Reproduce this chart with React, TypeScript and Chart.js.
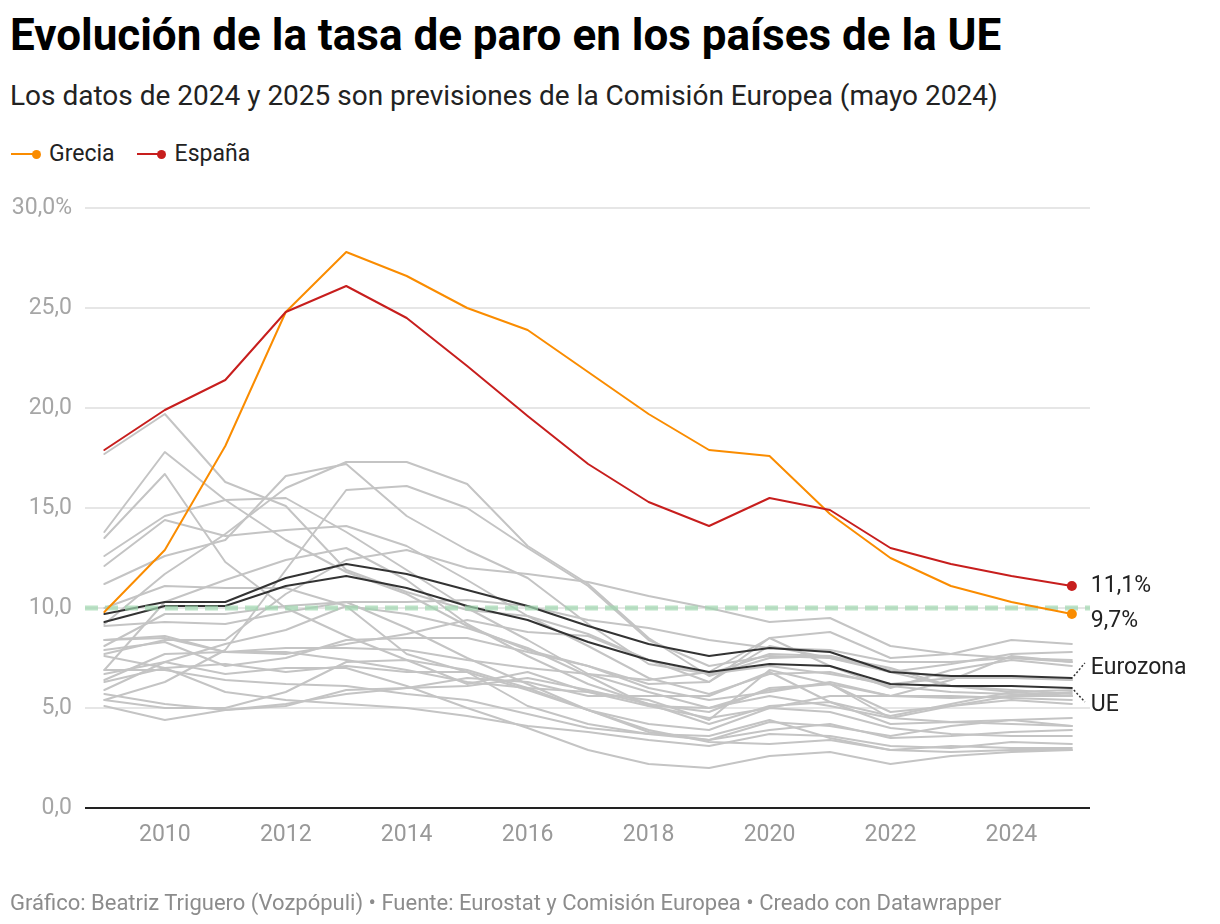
import React, { useEffect, useRef } from "react";
import { Chart, registerables } from "chart.js";

Chart.register(...registerables);

// ---------- DATA ----------
const years = [2009, 2010, 2011, 2012, 2013, 2014, 2015, 2016, 2017, 2018, 2019, 2020, 2021, 2022, 2023, 2024, 2025];
const xTickYears = [2010, 2012, 2014, 2016, 2018, 2020, 2022, 2024];
const yTickValues = [0, 5, 10, 15, 20, 25, 30];
const referenceValue = 10;

const espana = [17.9, 19.9, 21.4, 24.8, 26.1, 24.5, 22.1, 19.6, 17.2, 15.3, 14.1, 15.5, 14.9, 13.0, 12.2, 11.6, 11.1];
const grecia = [9.8, 12.9, 18.1, 24.8, 27.8, 26.6, 25.0, 23.9, 21.8, 19.7, 17.9, 17.6, 14.7, 12.5, 11.1, 10.3, 9.7];
const eurozona = [9.7, 10.3, 10.3, 11.5, 12.2, 11.7, 10.9, 10.1, 9.1, 8.2, 7.6, 8.0, 7.8, 6.8, 6.6, 6.6, 6.5];
const ue = [9.3, 10.1, 10.1, 11.1, 11.6, 11.0, 10.1, 9.4, 8.3, 7.4, 6.8, 7.2, 7.1, 6.2, 6.1, 6.1, 6.0];

const letonia = [17.7, 19.7, 16.3, 15.1, 11.9, 10.8, 9.9, 9.6, 8.7, 7.4, 6.3, 8.1, 7.5, 6.9, 6.5, 6.6, 6.4];
const lituania = [13.8, 17.8, 15.4, 13.4, 11.8, 10.7, 9.1, 7.9, 7.1, 6.2, 6.3, 8.5, 7.1, 6.0, 6.9, 7.4, 7.1];
const estonia = [13.5, 16.7, 12.3, 10.0, 8.6, 7.4, 6.2, 6.8, 5.8, 5.4, 4.4, 6.9, 6.2, 5.6, 6.4, 7.6, 7.3];
const croacia = [9.2, 11.7, 13.7, 16.0, 17.3, 17.3, 16.2, 13.1, 11.2, 8.5, 6.6, 7.5, 7.6, 7.0, 6.1, 5.9, 5.7];
const chipre = [5.4, 6.3, 7.9, 11.9, 15.9, 16.1, 15.0, 13.0, 11.1, 8.4, 7.1, 7.6, 7.5, 6.8, 6.1, 5.8, 5.6];
const portugal = [11.2, 12.6, 13.4, 16.6, 17.2, 14.6, 12.9, 11.5, 9.2, 7.2, 6.7, 7.1, 6.7, 6.2, 6.5, 6.5, 6.4];
const eslovaquia = [12.1, 14.4, 13.6, 13.9, 14.1, 13.1, 11.4, 9.6, 8.1, 6.5, 5.7, 6.7, 6.8, 6.1, 5.8, 5.7, 5.6];
const irlanda = [12.6, 14.6, 15.4, 15.5, 13.8, 11.9, 10.0, 8.4, 6.7, 5.8, 5.0, 5.9, 6.2, 4.5, 4.3, 4.4, 4.5];
const italia = [7.7, 8.4, 8.4, 10.7, 12.4, 12.9, 12.0, 11.7, 11.3, 10.6, 10.0, 9.3, 9.5, 8.1, 7.7, 7.5, 7.3];
const francia = [9.1, 9.3, 9.2, 9.8, 10.3, 10.3, 10.4, 10.1, 9.4, 9.0, 8.4, 8.0, 7.9, 7.3, 7.3, 7.5, 7.4];
const bulgaria = [6.9, 10.3, 11.4, 12.4, 13.0, 11.4, 9.2, 7.6, 6.2, 5.2, 4.2, 5.1, 5.3, 4.2, 4.3, 4.2, 4.1];
const hungria = [10.0, 11.1, 11.0, 11.0, 10.1, 7.7, 6.8, 5.1, 4.2, 3.7, 3.4, 4.3, 4.1, 3.6, 4.1, 4.4, 4.1];
const polonia = [8.1, 9.7, 9.7, 10.1, 10.3, 9.0, 7.5, 6.2, 4.9, 3.9, 3.3, 3.2, 3.4, 2.9, 2.8, 2.9, 2.9];
const chequia = [6.7, 7.3, 6.7, 7.0, 7.0, 6.1, 5.0, 4.0, 2.9, 2.2, 2.0, 2.6, 2.8, 2.2, 2.6, 2.8, 2.9];
const eslovenia = [5.9, 7.3, 8.2, 8.9, 10.1, 9.7, 9.0, 8.0, 6.6, 5.1, 4.5, 5.0, 4.8, 4.0, 3.7, 3.6, 3.6];
const finlandia = [8.4, 8.5, 7.8, 7.7, 8.2, 8.7, 9.4, 8.8, 8.6, 7.4, 6.7, 7.7, 7.6, 6.8, 7.2, 7.7, 7.8];
const suecia = [8.4, 8.6, 7.8, 8.0, 8.0, 7.9, 7.4, 7.0, 6.7, 6.4, 6.8, 8.5, 8.8, 7.5, 7.7, 8.4, 8.2];
const dinamarca = [6.4, 7.7, 7.8, 7.8, 7.4, 6.9, 6.3, 6.0, 5.8, 5.1, 5.0, 5.6, 5.1, 4.5, 5.1, 5.6, 5.8];
const paisesBajos = [5.4, 5.0, 5.0, 5.8, 7.3, 7.4, 6.9, 6.0, 4.9, 3.8, 3.4, 3.9, 4.2, 3.5, 3.6, 3.8, 3.9];
const alemania = [7.6, 7.0, 5.8, 5.4, 5.2, 5.0, 4.6, 4.1, 3.8, 3.4, 3.1, 3.7, 3.6, 3.1, 3.0, 3.3, 3.2];
const austria = [5.7, 5.2, 4.9, 5.2, 5.7, 6.0, 6.1, 6.5, 5.9, 5.2, 4.8, 6.0, 6.2, 4.8, 5.1, 5.4, 5.2];
const belgica = [7.9, 8.3, 7.1, 7.5, 8.4, 8.5, 8.5, 7.8, 7.1, 6.0, 5.4, 5.8, 6.3, 5.6, 5.5, 5.6, 5.6];
const luxemburgo = [5.1, 4.4, 4.9, 5.1, 5.9, 6.0, 6.5, 6.3, 5.6, 5.6, 5.6, 6.8, 5.3, 4.6, 5.2, 5.8, 5.9];
const malta = [6.9, 6.9, 6.4, 6.2, 6.1, 5.7, 5.4, 4.7, 4.0, 3.7, 3.6, 4.4, 3.5, 2.9, 3.1, 3.0, 3.0];
const rumania = [6.3, 7.0, 7.2, 6.8, 7.1, 6.8, 6.8, 5.9, 4.9, 4.2, 3.9, 5.0, 5.6, 5.6, 5.6, 5.5, 5.4];

const otrosPaises = [
  letonia, lituania, estonia, croacia, chipre, portugal, eslovaquia, irlanda, italia,
  francia, bulgaria, hungria, polonia, chequia, eslovenia, finlandia, suecia, dinamarca,
  paisesBajos, alemania, austria, belgica, luxemburgo, malta, rumania,
];

// ---------- STYLE ----------
const FONT = "Roboto, 'Noto Sans', sans-serif";
const RED = "#c71e1d";
const ORANGE = "#fa8c00";
const BLACK = "#333333";
const GREY = "#c4c4c4";

const fmt = (v: number) => v.toFixed(1).replace(".", ",");

const toPoints = (vals: number[]) => vals.map((v, i) => ({ x: years[i], y: v }));

export default function App() {
  const canvasRef = useRef<HTMLCanvasElement | null>(null);

  useEffect(() => {
    if (!canvasRef.current) return;
    const last = years.length - 1;

    const endDot = (color: string) => ({
      pointRadius: (ctx: any) => (ctx.dataIndex === last ? 5 : 0),
      pointBackgroundColor: color,
      pointBorderWidth: 0,
      pointHoverRadius: 0,
    });

    const datasets: any[] = [
      { label: "España", data: toPoints(espana), borderColor: RED, borderWidth: 2, ...endDot(RED) },
      { label: "Grecia", data: toPoints(grecia), borderColor: ORANGE, borderWidth: 2, ...endDot(ORANGE) },
      { label: "Eurozona", data: toPoints(eurozona), borderColor: BLACK, borderWidth: 2, pointRadius: 0 },
      { label: "UE", data: toPoints(ue), borderColor: BLACK, borderWidth: 2, pointRadius: 0 },
      ...otrosPaises.map((vals, i) => ({
        label: "p" + i,
        data: toPoints(vals),
        borderColor: GREY,
        borderWidth: 2,
        pointRadius: 0,
      })),
    ];

    const refLinePlugin = {
      id: "refLine",
      afterDatasetDraw(chart: any, args: any) {
        if (args.index !== 2) return;
        const { ctx, chartArea, scales } = chart;
        const y = scales.y.getPixelForValue(referenceValue);
        ctx.save();
        ctx.strokeStyle = "rgba(160, 215, 175, 0.7)";
        ctx.lineWidth = 5;
        ctx.setLineDash([13, 7]);
        ctx.beginPath();
        ctx.moveTo(chartArea.left, y);
        ctx.lineTo(chartArea.right, y);
        ctx.stroke();
        ctx.restore();
      },
    };

    const endLabelPlugin = {
      id: "endLabels",
      afterDraw(chart: any) {
        const { ctx } = chart;
        const pt = (di: number) => chart.getDatasetMeta(di).data[last];
        ctx.save();
        ctx.font = `23px ${FONT}`;
        ctx.fillStyle = "#222";
        ctx.textBaseline = "middle";
        ctx.textAlign = "left";
        const es = pt(0), gr = pt(1), ez = pt(2), eu = pt(3);
        const lx = es.x + 19;
        ctx.fillText(fmt(espana[last]) + "%", lx, es.y);
        ctx.fillText(fmt(grecia[last]) + "%", lx, gr.y + 7);
        ctx.fillText("Eurozona", lx, ez.y - 10);
        ctx.fillText("UE", lx, eu.y + 17);
        // leaders
        ctx.strokeStyle = "#333";
        ctx.lineWidth = 1.5;
        ctx.setLineDash([2, 2]);
        ctx.beginPath();
        ctx.moveTo(ez.x + 2, ez.y - 2);
        ctx.lineTo(ez.x + 13, ez.y - 15);
        ctx.moveTo(eu.x + 2, eu.y + 2);
        ctx.lineTo(eu.x + 13, eu.y + 14);
        ctx.stroke();
        ctx.restore();
      },
    };

    const chart = new Chart(canvasRef.current, {
      type: "line",
      data: { datasets },
      options: {
        animation: false,
        responsive: false,
        maintainAspectRatio: false,
        devicePixelRatio: 1,
        elements: { line: { tension: 0, borderCapStyle: "round", borderJoinStyle: "round" } },
        layout: { padding: { left: 0, right: 130, top: 208, bottom: 66 } },
        plugins: { legend: { display: false }, tooltip: { enabled: false } },
        scales: {
          x: {
            type: "linear",
            min: 2008.68,
            max: 2025.3,
            grid: { display: false, drawTicks: false },
            border: { display: false },
            afterBuildTicks: (s: any) => {
              s.ticks = xTickYears.map((v) => ({ value: v }));
            },
            afterFit: (s: any) => {
              s.height = 50;
            },
            ticks: {
              autoSkip: false,
              maxRotation: 0,
              padding: 13,
              color: "#999",
              font: { family: FONT, size: 23 },
              callback: (v: any) => String(v),
            },
          },
          y: {
            min: 0,
            max: 30,
            afterBuildTicks: (s: any) => {
              s.ticks = yTickValues.map((v) => ({ value: v }));
            },
            afterFit: (s: any) => {
              s.width = 85;
            },
            border: { display: false },
            grid: {
              drawTicks: false,
              color: (c: any) => (c.tick && c.tick.value === 0 ? "#222" : "#e6e6e6"),
              lineWidth: 2,
            },
            ticks: {
              padding: 13,
              color: "#a6a6a6",
              font: { family: FONT, size: 23 },
              callback: (v: any) => fmt(Number(v)) + (Number(v) === 30 ? "%" : ""),
            },
          },
        },
      },
      plugins: [refLinePlugin, endLabelPlugin],
    });

    return () => chart.destroy();
  }, []);

  const legendItem = (color: string, text: string, ml: number) => (
    <div style={{ display: "flex", alignItems: "center", marginLeft: ml }}>
      <div style={{ position: "relative", width: 25, height: 2, background: color }}>
        <div
          style={{
            position: "absolute",
            right: -4.5,
            top: -3.5,
            width: 9,
            height: 9,
            borderRadius: 4.5,
            background: color,
          }}
        />
      </div>
      <span style={{ marginLeft: 13 }}>{text}</span>
    </div>
  );

  return (
    <div
      style={{
        position: "absolute",
        left: 0,
        top: 0,
        width: 1220,
        height: 924,
        background: "#fff",
        fontFamily: FONT,
        overflow: "hidden",
      }}
    >
      <div
        style={{
          position: "absolute",
          left: 10,
          top: 10,
          fontSize: 44,
          lineHeight: "50px",
          fontWeight: 700,
          color: "#000",
          whiteSpace: "nowrap",
        }}
      >
        Evolución de la tasa de paro en los países de la UE
      </div>
      <div
        style={{
          position: "absolute",
          left: 10,
          top: 79.4,
          fontSize: 28,
          lineHeight: "34px",
          color: "#222",
          whiteSpace: "nowrap",
        }}
      >
        Los datos de 2024 y 2025 son previsiones de la Comisión Europea (mayo 2024)
      </div>
      <div
        style={{
          position: "absolute",
          left: 11,
          top: 140,
          fontSize: 23,
          lineHeight: "28px",
          color: "#222",
          display: "flex",
          alignItems: "center",
          whiteSpace: "nowrap",
        }}
      >
        {legendItem(ORANGE, "Grecia", 0)}
        {legendItem(RED, "España", 22)}
      </div>
      <canvas
        ref={canvasRef}
        width={1220}
        height={924}
        style={{ position: "absolute", left: 0, top: 0, width: 1220, height: 924 }}
      />
      <div
        style={{
          position: "absolute",
          left: 10,
          top: 889.5,
          fontSize: 22,
          lineHeight: "26px",
          color: "#8c8c8c",
          whiteSpace: "nowrap",
        }}
      >
        Gráfico: Beatriz Triguero (Vozpópuli) • Fuente: Eurostat y Comisión Europea • Creado con Datawrapper
      </div>
    </div>
  );
}
